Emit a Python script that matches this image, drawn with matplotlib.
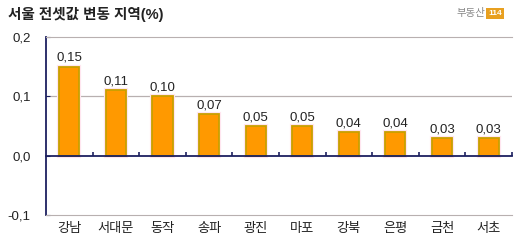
import numpy as np
import matplotlib
matplotlib.use('Agg')
import matplotlib.pyplot as plt

plt.rcParams['font.family'] = ['Liberation Sans', 'Noto Sans CJK KR', 'DejaVu Sans']

# data
regions = ['강남', '서대문', '동작', '송파', '광진', '마포', '강북', '은평', '금천', '서초']
values = [0.15, 0.11, 0.10, 0.07, 0.05, 0.05, 0.04, 0.04, 0.03, 0.03]
yticks = [-0.1, 0.0, 0.1, 0.2]
title = '서울 전셋값 변동 지역(%)'

navy = '#1c2060'
grid_c = '#b8b0b0'

fig = plt.figure(figsize=(5.2, 2.44), dpi=100)
ax = fig.add_axes([0.0885, 0.119, 0.896, 0.729])

x = np.arange(len(regions))
# pink halo behind each bar
ax.bar(x, values, width=0.43, color='none', edgecolor='#ffe6f0', linewidth=3, zorder=2)
ax.bar(x, values, width=0.43, color='#ff9900', edgecolor='#c8a000', linewidth=1.3, zorder=3)

for xi, v in zip(x, values):
    ax.annotate(('%.2f' % v).replace('.', ','), xy=(xi, v), xytext=(0, 2),
                textcoords='offset points', ha='center', va='bottom',
                fontsize=9.5, color='#222222')

ax.set_xlim(-0.5, len(regions) - 0.5)
ax.set_ylim(-0.1, 0.2)
ax.set_yticks(yticks)
ax.set_yticklabels([('%.1f' % t).replace('.', ',') for t in yticks], fontsize=9.5, color='#222222')
ax.tick_params(axis='y', direction='in', length=3, color=navy, pad=11)

ax.set_xticks(x)
ax.set_xticklabels(regions, fontsize=9.5, color='#222222')
ax.tick_params(axis='x', length=0, pad=6)

# gridline at 0.1
ax.axhline(0.1, color=grid_c, lw=0.9, zorder=1)

ax.spines['right'].set_visible(False)
ax.spines['top'].set_color(grid_c)
ax.spines['bottom'].set_color(grid_c)
ax.spines['left'].set_color(navy)
ax.spines['left'].set_linewidth(1.3)

# zero axis with category ticks
zero_frac = (0 - (-0.1)) / 0.3
sec = ax.secondary_xaxis(zero_frac)
sec.set_xticks(np.arange(len(regions)) + 0.5)
sec.set_xticklabels([])
sec.tick_params(direction='in', length=3, color=navy, width=1.2)
sec.spines['bottom'].set_color(navy)
sec.spines['bottom'].set_linewidth(1.3)
sec.set_zorder(4)

fig.text(0.015, 0.94, title, fontsize=10.5, fontweight='bold', color='#222222', va='center')
fig.text(0.934, 0.945, '부동산', fontsize=7.5, color='#888888', va='center', ha='right')
fig.text(0.952, 0.945, '114', fontsize=6, color='#ffffff', va='center', ha='center',
         fontweight='bold', bbox=dict(boxstyle='square,pad=0.2', fc='#e8a020', ec='none'))

fig.savefig('out.png', dpi=100)
